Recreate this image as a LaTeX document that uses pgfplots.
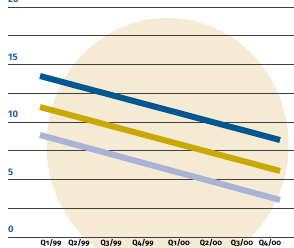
\documentclass[border=0pt]{standalone}
\usepackage{pgfplots}
\pgfplotsset{compat=1.18}
\usepackage{fontspec}
\setmainfont{Fira Sans}
\newfontfamily\oldfont[Numbers=OldStyle]{Fira Sans}
\definecolor{cblue}{HTML}{00578F}
\definecolor{cgold}{HTML}{C9A900}
\definecolor{clight}{HTML}{A8B3D5}
\definecolor{cbeige}{HTML}{F5EAD3}
\definecolor{ylab}{HTML}{1F5FA0}
\begin{document}
\begin{tikzpicture}
\begin{axis}[
  set layers,
  scale only axis,
  width=286bp, height=230bp,
  xmin=-0.9333, xmax=7.408,
  ymin=0, ymax=20,
  clip=false,
  axis line style={draw=none},
  major tick length=0pt,
  ytick={0,2.5,5,7.5,10,12.5,15,17.5,20},
  yticklabels={0,{},5,{},10,{},15,{},20},
  ymajorgrids,
  major grid style={black!75, line width=0.8bp},
  yticklabel style={font=\bfseries\fontsize{9.5}{10}\selectfont, text=ylab, anchor=south west, inner sep=0pt, yshift=4bp},
  xtick={0.321,1.1375,2.071,3.004,4.054,4.9875,5.8917,6.708},
  xticklabels={Q1/99,Q2/99,Q3/99,Q4/99,Q1/00,Q2/00,Q3/00,Q4/00},
  xticklabel style={font=\oldfont\bfseries\fontsize{7.6}{8}\selectfont, inner sep=0pt, yshift=-2.5bp},
]
\begin{pgfonlayer}{axis background}
\fill[cbeige] (axis cs:3.719,8) ellipse [x radius=121bp, y radius=127bp];
\end{pgfonlayer}
\addplot[cblue, line width=6bp] coordinates {(0,14.00) (1,13.20) (2,12.41) (3,11.61) (4,10.82) (5,10.02) (6,9.23) (7,8.43)};
\addplot[cgold, line width=6bp] coordinates {(0,11.30) (1,10.51) (2,9.71) (3,8.92) (4,8.12) (5,7.33) (6,6.54) (7,5.74)};
\addplot[clight, line width=6bp] coordinates {(0,8.87) (1,8.06) (2,7.26) (3,6.45) (4,5.64) (5,4.84) (6,4.03) (7,3.22)};
\coordinate (sw) at (rel axis cs:0,0);
\coordinate (ne) at (rel axis cs:1,1);
\end{axis}
\pgfresetboundingbox
\path[use as bounding box] ([xshift=-8bp,yshift=-11bp]sw) rectangle ([yshift=7bp]ne);
\end{tikzpicture}
\end{document}
